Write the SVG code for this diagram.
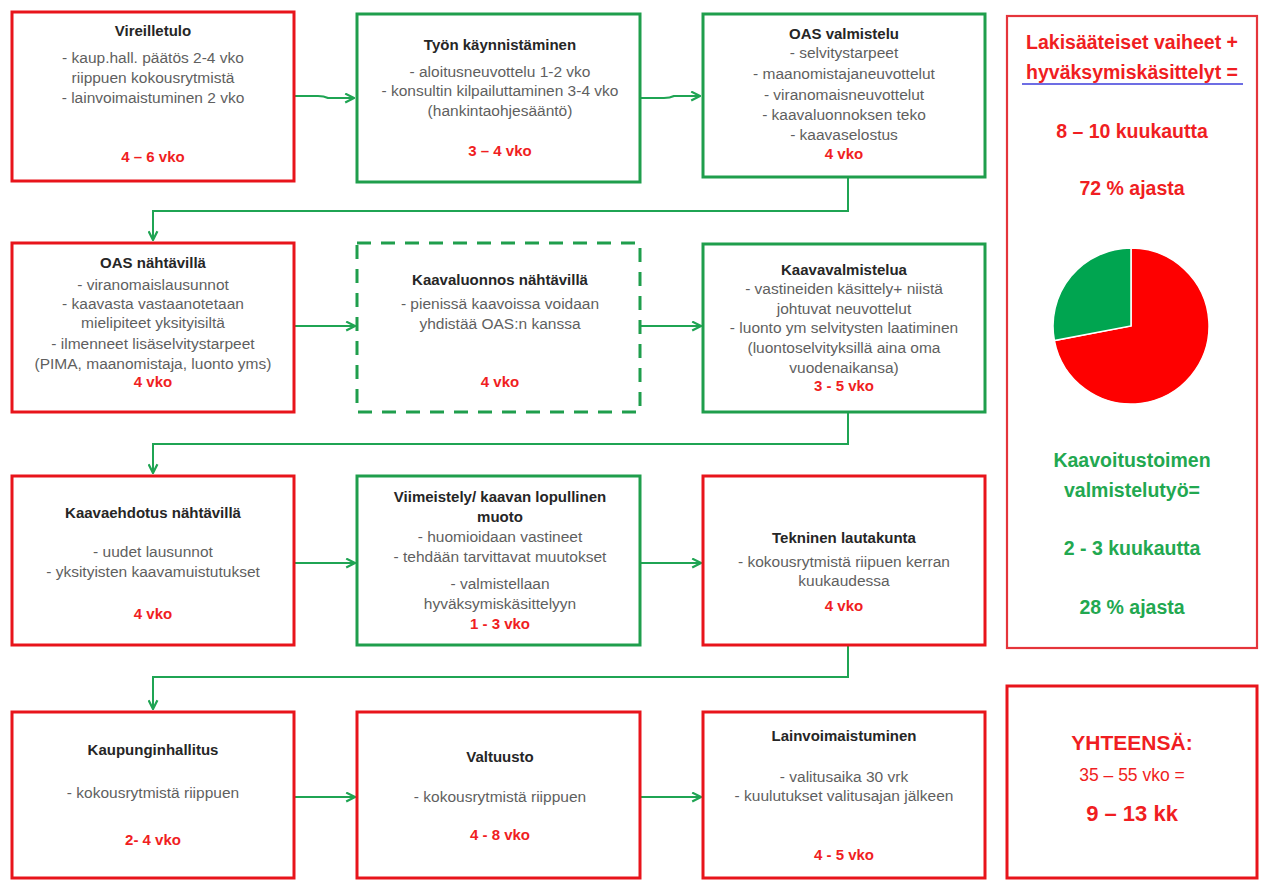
<svg xmlns="http://www.w3.org/2000/svg" width="1267" height="882" viewBox="0 0 1267 882">
<style>
.bg{fill:#fff}
.rbox{fill:#fff;stroke:#e8141b;stroke-width:3}
.gbox{fill:#fff;stroke:#1f9e4c;stroke-width:3}
.dbox{fill:#fff;stroke:#1f9e4c;stroke-width:3;stroke-dasharray:14 10}
.pbox{fill:#fff;stroke:#e5353b;stroke-width:2.2}
text{font-family:"Liberation Sans",Arial,sans-serif;text-anchor:middle}
.t{font-size:15px;font-weight:bold;fill:#262626}
.b{font-size:15.5px;fill:#5f5f5f}
.d{font-size:15px;font-weight:bold;fill:#f01e22}
.pr{font-size:19.5px;font-weight:bold;fill:#f01e22}
.pg{font-size:19.5px;font-weight:bold;fill:#22a850}
.con{fill:none;stroke:#1fa453;stroke-width:2}
</style>
<defs>
<marker id="ah" viewBox="0 0 10 10" refX="9" refY="5" markerWidth="11" markerHeight="11" markerUnits="userSpaceOnUse" orient="auto">
<path d="M1,1 L9,5 L1,9" fill="none" stroke="#1fa453" stroke-width="2"/>
</marker>
</defs>
<rect class="bg" x="0" y="0" width="1267" height="882"/>

<g id="connectors">
<path class="con" d="M295,96 H318 Q324,96 328,98 H354" marker-end="url(#ah)"/>
<path class="con" d="M641,98 H664 Q670,98 674,96 H700" marker-end="url(#ah)"/>
<path class="con" d="M848,177 V211 H153 V240" marker-end="url(#ah)"/>
<path class="con" d="M294,326 H355" marker-end="url(#ah)"/>
<path class="con" d="M640,326 H701" marker-end="url(#ah)"/>
<path class="con" d="M848,412 V444 H153 V473" marker-end="url(#ah)"/>
<path class="con" d="M294,563 H355" marker-end="url(#ah)"/>
<path class="con" d="M640,563 H701" marker-end="url(#ah)"/>
<path class="con" d="M848,645 V677 H153 V709" marker-end="url(#ah)"/>
<path class="con" d="M294,797 H355" marker-end="url(#ah)"/>
<path class="con" d="M640,797 H701" marker-end="url(#ah)"/>
</g>

<g id="vireilletulo">
<rect class="rbox" x="12" y="12" width="282" height="169"/>
<text class="t" x="153" y="36">Vireilletulo</text>
<text class="b" x="153" y="63">- kaup.hall. päätös 2-4 vko</text>
<text class="b" x="153" y="83">riippuen kokousrytmistä</text>
<text class="b" x="153" y="103">- lainvoimaistuminen 2 vko</text>
<text class="d" x="153" y="162">4 – 6 vko</text>
</g>

<g id="tyon-kaynnistaminen">
<rect class="gbox" x="357" y="14" width="283" height="168"/>
<text class="t" x="500" y="50">Työn käynnistäminen</text>
<text class="b" x="500" y="77">- aloitusneuvottelu 1-2 vko</text>
<text class="b" x="500" y="96">- konsultin kilpailuttaminen 3-4 vko</text>
<text class="b" x="500" y="116">(hankintaohjesääntö)</text>
<text class="d" x="500" y="156">3 – 4 vko</text>
</g>

<g id="oas-valmistelu">
<rect class="gbox" x="703" y="14" width="282" height="163"/>
<text class="t" x="844" y="39">OAS valmistelu</text>
<text class="b" x="844" y="58">- selvitystarpeet</text>
<text class="b" x="844" y="79">- maanomistajaneuvottelut</text>
<text class="b" x="844" y="100">- viranomaisneuvottelut</text>
<text class="b" x="844" y="120">- kaavaluonnoksen teko</text>
<text class="b" x="844" y="140">- kaavaselostus</text>
<text class="d" x="844" y="159">4 vko</text>
</g>

<g id="oas-nahtavilla">
<rect class="rbox" x="12" y="243" width="282" height="169"/>
<text class="t" x="153" y="268">OAS nähtävillä</text>
<text class="b" x="153" y="290">- viranomaislausunnot</text>
<text class="b" x="153" y="309">- kaavasta vastaanotetaan</text>
<text class="b" x="153" y="328">mielipiteet yksityisiltä</text>
<text class="b" x="153" y="349">- ilmenneet lisäselvitystarpeet</text>
<text class="b" x="153" y="369">(PIMA, maanomistaja, luonto yms)</text>
<text class="d" x="153" y="387">4 vko</text>
</g>

<g id="kaavaluonnos-nahtavilla">
<rect class="dbox" x="357" y="243" width="283" height="169"/>
<text class="t" x="500" y="285">Kaavaluonnos nähtävillä</text>
<text class="b" x="500" y="309">- pienissä kaavoissa voidaan</text>
<text class="b" x="500" y="329">yhdistää OAS:n kanssa</text>
<text class="d" x="500" y="387">4  vko</text>
</g>

<g id="kaavavalmistelua">
<rect class="gbox" x="703" y="244" width="282" height="168"/>
<text class="t" x="844" y="275">Kaavavalmistelua</text>
<text class="b" x="844" y="294">- vastineiden käsittely+ niistä</text>
<text class="b" x="844" y="314">johtuvat neuvottelut</text>
<text class="b" x="844" y="333">- luonto ym selvitysten laatiminen</text>
<text class="b" x="844" y="353">(luontoselvityksillä aina oma</text>
<text class="b" x="844" y="373">vuodenaikansa)</text>
<text class="d" x="844" y="391">3 - 5 vko</text>
</g>

<g id="kaavaehdotus-nahtavilla">
<rect class="rbox" x="12" y="476" width="282" height="169"/>
<text class="t" x="153" y="518">Kaavaehdotus nähtävillä</text>
<text class="b" x="153" y="557">- uudet lausunnot</text>
<text class="b" x="153" y="577">- yksityisten kaavamuistutukset</text>
<text class="d" x="153" y="619">4 vko</text>
</g>

<g id="viimeistely">
<rect class="gbox" x="357" y="476" width="283" height="169"/>
<text class="t" x="500" y="502">Viimeistely/ kaavan lopullinen</text>
<text class="t" x="500" y="522">muoto</text>
<text class="b" x="500" y="542">- huomioidaan vastineet</text>
<text class="b" x="500" y="562">- tehdään tarvittavat muutokset</text>
<text class="b" x="500" y="589">- valmistellaan</text>
<text class="b" x="500" y="609">hyväksymiskäsittelyyn</text>
<text class="d" x="500" y="629">1 - 3 vko</text>
</g>

<g id="tekninen-lautakunta">
<rect class="rbox" x="703" y="476" width="282" height="169"/>
<text class="t" x="844" y="543">Tekninen lautakunta</text>
<text class="b" x="844" y="567">- kokousrytmistä riipuen kerran</text>
<text class="b" x="844" y="586">kuukaudessa</text>
<text class="d" x="844" y="611">4 vko</text>
</g>

<g id="kaupunginhallitus">
<rect class="rbox" x="12" y="712" width="282" height="166"/>
<text class="t" x="153" y="755">Kaupunginhallitus</text>
<text class="b" x="153" y="798">- kokousrytmistä riippuen</text>
<text class="d" x="153" y="845">2- 4 vko</text>
</g>

<g id="valtuusto">
<rect class="rbox" x="357" y="712" width="283" height="166"/>
<text class="t" x="500" y="762">Valtuusto</text>
<text class="b" x="500" y="802">- kokousrytmistä riippuen</text>
<text class="d" x="500" y="840">4 - 8 vko</text>
</g>

<g id="lainvoimaistuminen">
<rect class="rbox" x="703" y="712" width="282" height="166"/>
<text class="t" x="844" y="741">Lainvoimaistuminen</text>
<text class="b" x="844" y="782">- valitusaika 30 vrk</text>
<text class="b" x="844" y="801">- kuulutukset valitusajan jälkeen</text>
<text class="d" x="844" y="860">4 - 5 vko</text>
</g>

<g id="summary-panel">
<rect class="pbox" x="1007" y="16" width="250" height="632"/>
<text class="pr" x="1132" y="49">Lakisääteiset vaiheet +</text>
<text class="pr" x="1132" y="79">hyväksymiskäsittelyt  =</text>
<line x1="1022" y1="84" x2="1243" y2="84" stroke="#3d3ddb" stroke-width="1.5"/>
<text class="pr" x="1132" y="138">8 – 10 kuukautta</text>
<text class="pr" x="1132" y="195">72 % ajasta</text>
<path d="M1131,326 L1131,248 A78,78 0 1 1 1054.4,340.6 Z" fill="#fe0000" stroke="#fff" stroke-width="1.5"/>
<path d="M1131,326 L1131,248 A78,78 0 0 0 1054.4,340.6 Z" fill="#00a550" stroke="#fff" stroke-width="1.5"/>
<text class="pg" x="1132" y="467">Kaavoitustoimen</text>
<text class="pg" x="1132" y="497">valmistelutyö=</text>
<text class="pg" x="1132" y="555">2 - 3 kuukautta</text>
<text class="pg" x="1132" y="614">28 % ajasta</text>
</g>

<g id="yhteensa">
<rect class="rbox" x="1007" y="686" width="250" height="192"/>
<text x="1132" y="750" style="font-size:21px;font-weight:bold;fill:#f01e22">YHTEENSÄ:</text>
<text x="1132" y="781" style="font-size:17.5px;fill:#f01e22">35 – 55 vko =</text>
<text x="1132" y="821" style="font-size:22px;font-weight:bold;fill:#f01e22">9 – 13 kk</text>
</g>
</svg>
